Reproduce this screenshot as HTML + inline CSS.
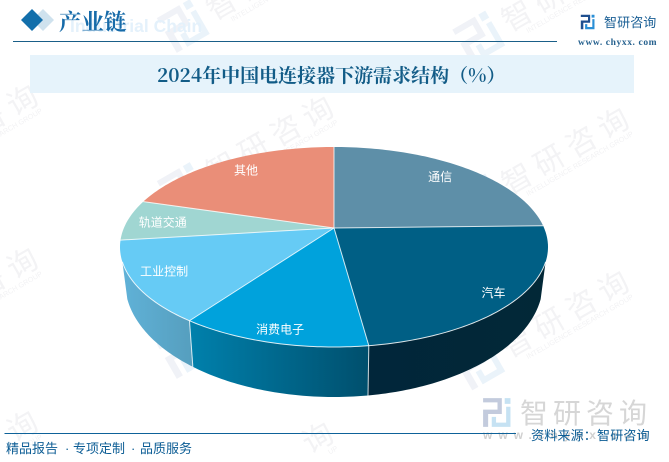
<!DOCTYPE html>
<html>
<head>
<meta charset="utf-8">
<style>
html,body{margin:0;padding:0;background:#fff;width:669px;height:462px;overflow:hidden}
svg{display:block}
.serif{font-family:"Noto Serif CJK SC","Liberation Serif",serif}
.sans{font-family:"Liberation Sans","WenQuanYi Zen Hei","Noto Sans CJK SC",sans-serif}
</style>
</head>
<body>
<svg id="page" xmlns="http://www.w3.org/2000/svg" width="669" height="462" viewBox="0 0 669 462">
  <defs>
    <linearGradient id="wall-0" gradientUnits="userSpaceOnUse" x1="369" x2="548" y1="0" y2="0"><stop offset="0" stop-color="#01263a"/><stop offset="1" stop-color="#022837"/></linearGradient>
    <linearGradient id="wall-1" gradientUnits="userSpaceOnUse" x1="188" x2="369" y1="0" y2="0"><stop offset="0" stop-color="#0081ad"/><stop offset="1" stop-color="#004f6d"/></linearGradient>
    <linearGradient id="wall-2" gradientUnits="userSpaceOnUse" x1="121" x2="190" y1="0" y2="0"><stop offset="0" stop-color="#60b2d8"/><stop offset="1" stop-color="#569fbf"/></linearGradient>
  </defs>
  <rect width="669" height="462" fill="#ffffff"/>
  <g id="watermarks"></g>

  <text x="70" y="32" font-family="Liberation Sans, sans-serif" font-weight="700" font-size="17.5" fill="#e4f1fb">Industrial Chain</text>
  <polygon points="43,9 54,20 43,31 32,20" fill="#cfe2ee"/>
  <polygon points="32,9 43,20 32,31 21,20" fill="#136fab"/>
  <text class="serif" x="59" y="30" font-size="22.5" font-weight="700" fill="#176ba9">产业链</text>
  <line x1="13" y1="41.5" x2="557" y2="41.5" stroke="#1a5f88" stroke-width="1"/>

  <g id="brand-logo-top"></g>
  <text class="sans" x="604" y="27" font-size="13" letter-spacing="0.1" fill="#1a5f95">智研咨询</text>
  <text font-family="Liberation Serif, serif" x="578" y="45" font-size="9.5" font-weight="700" letter-spacing="0.6" fill="#27628f">www. chyxx. com</text>

  <rect x="30" y="55" width="604" height="38" fill="#e6f3fb"/>
  <text class="serif" x="157" y="82" font-size="19" font-weight="700" fill="#125c87">2024年中国电连接器下游需求结构（%）</text>

  <g id="pie-walls"></g>
  <g id="pie-top"></g>
  <g id="pie-lines"></g>
  <g id="pie-labels"></g>

  <g id="brand-logo-bottom"></g>
  <text class="sans" x="520" y="423" font-size="28" letter-spacing="5" fill="#d6d6d6">智研咨询</text>
  <text font-family="Liberation Sans, sans-serif" font-weight="700" x="483" y="439" font-size="12" letter-spacing="6" fill="#d0d0d0">www.chyxx.com</text>

  <line x1="4.5" y1="433.5" x2="516" y2="433.5" stroke="#0e6299" stroke-width="1"/>
  <text class="sans" x="6" y="453" font-size="13" fill="#0b5c94">精品报告</text>
  <text class="sans" x="65" y="453" font-size="13" fill="#0b5c94">·</text>
  <text class="sans" x="73" y="453" font-size="13" fill="#0b5c94">专项定制</text>
  <text class="sans" x="131" y="453" font-size="13" fill="#0b5c94">·</text>
  <text class="sans" x="140" y="453" font-size="13" fill="#0b5c94">品质服务</text>
  <text class="sans" x="531" y="440" font-size="13" letter-spacing="0.2" fill="#0b5c94">资料来源：智研咨询</text>
</svg>
<script>
var categories = ["通信", "汽车", "消费电子", "工业控制", "轨道交通", "其他"];
var shares = [21.6, 25.8, 14.4, 14.3, 6.4, 17.5];
var sliceColors = ["#5e8fa8", "#005f85", "#00a2dc", "#66cbf5", "#a0d6d2", "#ea8e78"];

var SVGNS = "http://www.w3.org/2000/svg";
var apex = {x: 334, y: 228};
var topEllipse = {cx: 334, cy: 247, rx: 214, ry: 100};
var baseEllipse = {cx: 334, cy: 282, rx: 209, ry: 115};
var wallStart = 98.6, wallEnd = 261.4;

function onEllipse(e, deg) {
  var a = deg * Math.PI / 180;
  return {x: e.cx + e.rx * Math.sin(a), y: e.cy - e.ry * Math.cos(a)};
}
function angleScale(v) {
  var total = shares.reduce(function (s, n) { return s + n; }, 0);
  return v / total * 360;
}
function arcPoints(e, a0, a1) {
  var pts = [], n = Math.max(2, Math.ceil(Math.abs(a1 - a0)));
  for (var i = 0; i <= n; i++) {
    var p = onEllipse(e, a0 + (a1 - a0) * i / n);
    pts.push(p.x.toFixed(2) + " " + p.y.toFixed(2));
  }
  return pts;
}
function make(tag, parent) {
  var el = document.createElementNS(SVGNS, tag);
  parent.appendChild(el);
  return el;
}

function drawLogo(parent, x, y, scale, rot, dark, light) {
  var g = make("g", parent);
  g.setAttribute("transform", "translate(" + x + " " + y + ") rotate(" + rot + ") scale(" + scale + ")");
  var d = make("path", g);
  d.setAttribute("d", "M-20 -20H6V2H-13V20H-20V-4H0V-14H-20Z");
  d.setAttribute("fill", dark);
  var l = make("path", g);
  l.setAttribute("d", "M10 -20H18V-12H10ZM12 -8H18V20H-8V6H-2V14H12Z");
  l.setAttribute("fill", light);
}

function drawWatermarks() {
  var layer = document.getElementById("watermarks");
  var cosA = Math.cos(Math.PI / 6), sinA = Math.sin(Math.PI / 6);
  var word = "智研咨询";
  var english = "INTELLIGENCE RESEARCH GROUP";
  var englishAdvance = 4.8;
  for (var c = 0; c < 3; c++) {
    for (var r = -1; r < 3; r++) {
      var x = 22 + 295.5 * c, y = 100 + 163 * r + 11.5 * c;
      var g = make("g", layer);
      
      
      g.setAttribute("transform", "translate(" + x + " " + y + ") rotate(-30)");
      for (var i = 0; i < word.length; i++) {
        var lx = -(3 - i) * 37;
        var gy = y - lx * sinA;
        if (gy + 21 > 462) continue;
        var t = make("text", g);
        
        
        t.setAttribute("x", lx);
        t.setAttribute("y", "11");
        t.setAttribute("text-anchor", "middle");
        t.setAttribute("font-size", "30");
        t.setAttribute("fill", "#f3f3f5");
        t.setAttribute("font-family", "Liberation Sans, Noto Sans CJK SC, sans-serif");
        t.textContent = word.charAt(i);
      }
      var endX = 12, tail = "";
      for (var k = english.length - 1; k >= 0; k--) {
        var ex = endX - (english.length - k) * englishAdvance;
        if (y + 21 * cosA - ex * sinA + 6 > 462) break;
        tail = english.charAt(k) + tail;
      }
      if (tail) {
        var e = make("text", g);
        
        
        e.setAttribute("x", endX);
        e.setAttribute("y", "21");
        e.setAttribute("text-anchor", "end");
        e.setAttribute("font-size", "7.2");
        e.setAttribute("fill", "#f2f2f4");
        e.setAttribute("font-family", "Liberation Sans, sans-serif");
        e.textContent = tail;
      }
      if (y + 154 * sinA + 30 <= 462) {
        drawLogo(g, -154, 0, 1.0, 0, "#f0f2f7", "#eaf3fa");
      }
    }
  }
}

function drawPie() {
  var walls = document.getElementById("pie-walls");
  var tops = document.getElementById("pie-top");
  var lines = document.getElementById("pie-lines");
  var labels = document.getElementById("pie-labels");
  var labelNudge = [[-8, -4], [9, -2], [-2, 1], [-1, -7], [4, -2], [7, -4]];
  var cum = 0;
  categories.forEach(function (name, i) {
    var a0 = angleScale(cum);
    cum += shares[i];
    var a1 = angleScale(cum);

    var w0 = Math.max(a0, wallStart), w1 = Math.min(a1, wallEnd);
    if (w1 > w0) {
      var wall = make("path", walls);
      
      
      var upper = arcPoints(topEllipse, w0, w1);
      var lower = arcPoints(baseEllipse, w1, w0);
      wall.setAttribute("d", "M" + upper.join("L") + "L" + lower.join("L") + "Z");
      wall.setAttribute("fill", (i >= 1 && i <= 3) ? "url(#wall-" + (i - 1) + ")" : sliceColors[i]);
    }

    var slice = make("path", tops);
    
    
    slice.setAttribute("d", "M" + apex.x + " " + apex.y + "L" + arcPoints(topEllipse, a0, a1).join("L") + "Z");
    slice.setAttribute("fill", sliceColors[i]);

    var edge = onEllipse(topEllipse, a0);
    var sep = make("line", lines);
    
    
    sep.setAttribute("x1", apex.x);
    sep.setAttribute("y1", apex.y);
    sep.setAttribute("x2", edge.x);
    sep.setAttribute("y2", edge.y);
    sep.setAttribute("stroke", "#ffffff");
    sep.setAttribute("stroke-opacity", "0.8");
    sep.setAttribute("stroke-width", "1");

    if (a0 > wallStart && a0 < wallEnd) {
      var low = onEllipse(baseEllipse, a0);
      var seam = make("line", lines);
      
      
      seam.setAttribute("x1", edge.x);
      seam.setAttribute("y1", edge.y);
      seam.setAttribute("x2", low.x);
      seam.setAttribute("y2", low.y);
      seam.setAttribute("stroke", "#ffffff");
      seam.setAttribute("stroke-opacity", "0.8");
      seam.setAttribute("stroke-width", "1");
    }

    var mid = (a0 + a1) / 2;
    var lp = onEllipse({cx: topEllipse.cx, cy: topEllipse.cy, rx: topEllipse.rx * 0.85, ry: topEllipse.ry * 0.85}, mid);
    var label = make("text", labels);
    
    
    label.setAttribute("x", lp.x + labelNudge[i][0]);
    label.setAttribute("y", lp.y + labelNudge[i][1] + 4);
    label.setAttribute("text-anchor", "middle");
    label.setAttribute("font-size", "12");
    label.setAttribute("fill", "#ffffff");
    label.setAttribute("font-family", "Liberation Sans, WenQuanYi Zen Hei, Noto Sans CJK SC, sans-serif");
    label.textContent = name;
  });

  var front = make("path", lines);
  
  
  front.setAttribute("d", "M" + arcPoints(topEllipse, wallStart, wallEnd).join("L"));
  front.setAttribute("fill", "none");
  front.setAttribute("stroke", "#ffffff");
  front.setAttribute("stroke-opacity", "0.85");
  front.setAttribute("stroke-width", "1");
}

drawWatermarks();
drawPie();
drawLogo(document.getElementById("brand-logo-top"), 588, 22, 0.36, 0, "#1f4f8f", "#2a8fd6");
drawLogo(document.getElementById("brand-logo-bottom"), 497.5, 412.5, 0.72, 0, "#c3cbdd", "#c6e2f3");
</script>
</body>
</html>
